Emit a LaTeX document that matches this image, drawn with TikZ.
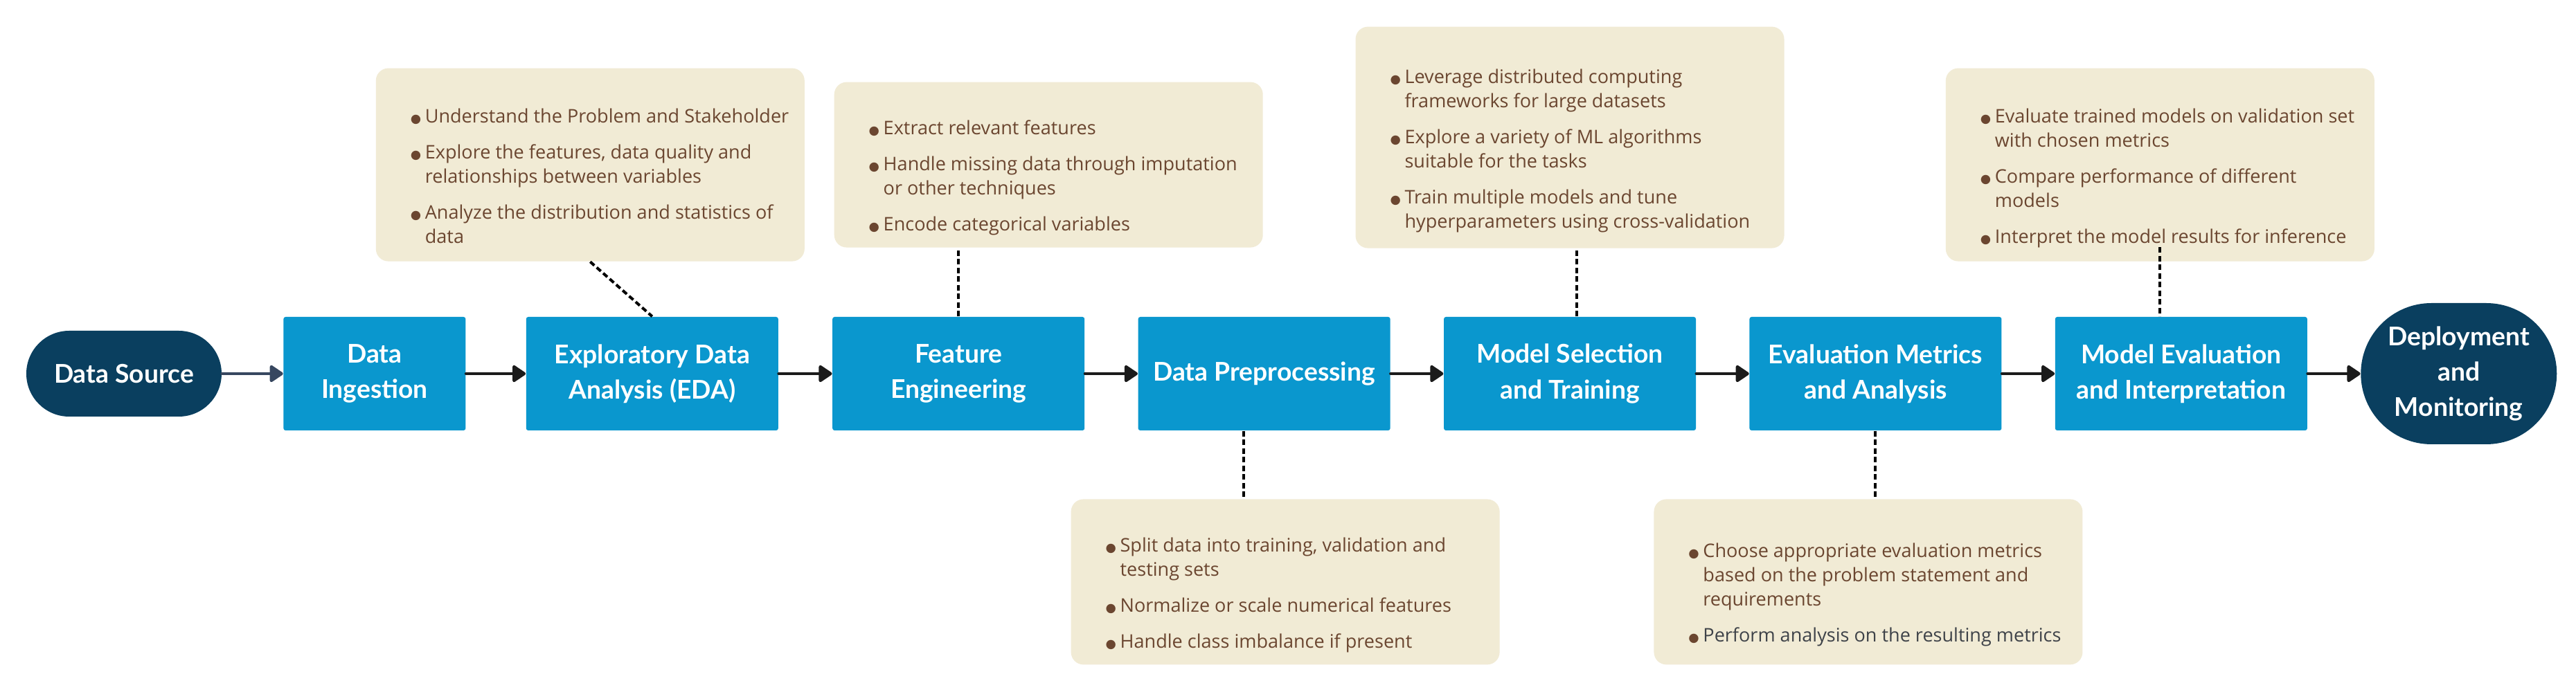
\documentclass[tikz,border=0pt]{standalone}
\usepackage{fontspec}
\setmainfont{Open Sans}
\newfontfamily\stagefont{Lato}
\newfontfamily\dotfont{DejaVu Sans}
\usetikzlibrary{positioning,calc,arrows.meta}

\definecolor{stageblue}{HTML}{0A97CE}
\definecolor{termnavy}{HTML}{0A3F5F}
\definecolor{notebg}{HTML}{F1EBD5}
\definecolor{notetext}{HTML}{6B4630}
\definecolor{notegray}{HTML}{3F4349}
\definecolor{srcarrow}{HTML}{374760}
\definecolor{flowblack}{HTML}{1B1B1B}

% bullet list inside a note
\newcommand{\nbul}{\makebox[0.21cm][l]{{\dotfont\fontsize{5}{5}\selectfont ●}}}
\newcommand{\nind}{\hspace*{0.21cm}}
\newcommand{\notelist}[1]{\makebox[5.19cm][l]{\raisebox{-0.19cm}[\height][\depth]{%
    \begin{tabular}{@{}l@{}}#1\end{tabular}}}}

\tikzset{
    stage/.style={
        fill=stageblue,
        rounded corners=0.03cm,
        text=white,
        align=center,
        minimum width=3.64cm,
        minimum height=1.64cm,
        font=\stagefont\bfseries\fontsize{10.6}{14.6}\selectfont
    },
    terminal/.style={
        fill=termnavy,
        text=white,
        align=center,
        font=\stagefont\bfseries\fontsize{10.6}{14.6}\selectfont
    },
    note/.style={
        fill=notebg,
        rounded corners=0.18cm,
        inner sep=0pt,
        minimum width=6.19cm,
        text=notetext,
        font=\fontsize{7.7}{9.96}\selectfont
    },
    flow/.style={->, line width=0.045cm, draw=flowblack, line cap=round},
    link/.style={line width=0.04cm, dash pattern=on 0.08cm off 0.045cm, draw=black}
}

\begin{document}
\begin{tikzpicture}[auto, node distance=0.76cm,
    >={Triangle[length=0.21cm,width=0.27cm,round]}]
    \useasboundingbox[fill=white] (0,0) rectangle (37.2,-10);
    % Pipeline
    \node [terminal,
        minimum width=2.82cm,
        minimum height=1.24cm,
        rounded corners=0.62cm
    ] (src) at (1.79,-5.40) {Data Source};
    \node [stage,
        minimum width=2.63cm,
        right=0.88cm of src
    ] (ing) {Data\\Ingestion};
    \node [stage, right=0.86cm of ing] (eda) {Exploratory Data\\Analysis (EDA)};
    \node [stage, right=0.77cm of eda] (fe) {Feature\\Engineering};
    \node [stage, right=of fe] (dp) {Data Preprocessing};
    \node [stage, right=of dp] (ms) {Model Selection\\and Training};
    \node [stage, right=of ms] (em) {Evaluation Metrics\\and Analysis};
    \node [stage, right=of em] (me) {Model Evaluation\\and Interpretation};
    \node [terminal,
        minimum width=2.83cm,
        minimum height=2.04cm,
        rounded corners=1.02cm,
        right=of me
    ] (dm) {Deployment\\and\\Monitoring};

    % Notes above
    \node [note,
        minimum height=2.79cm,
        above=0.79cm of eda, xshift=-0.895cm
    ] (edanote) {\notelist{%
        \nbul Understand the Problem and Stakeholder\\[0.17cm]
        \nbul Explore the features, data quality and\\
        \nind relationships between variables\\[0.17cm]
        \nbul Analyze the distribution and statistics of\\
        \nind data}};
    \node [note,
        minimum height=2.39cm,
        above=0.99cm of fe, xshift=1.30cm
    ] (fenote) {\notelist{%
        \nbul Extract relevant features\\[0.17cm]
        \nbul Handle missing data through imputation\\
        \nind or other techniques\\[0.17cm]
        \nbul Encode categorical variables}};
    \node [note,
        minimum height=3.20cm,
        above=0.98cm of ms
    ] (msnote) {\notelist{%
        \nbul Leverage distributed computing\\
        \nind frameworks for large datasets\\[0.17cm]
        \nbul Explore a variety of ML algorithms\\
        \nind suitable for the tasks\\[0.17cm]
        \nbul Train multiple models and tune\\
        \nind hyperparameters using cross-validation}};
    \node [note,
        minimum height=2.79cm,
        above=0.79cm of me, xshift=-0.305cm
    ] (menote) {\notelist{%
        \nbul Evaluate trained models on validation set\\
        \nind with chosen metrics\\[0.17cm]
        \nbul Compare performance of different\\
        \nind models\\[0.17cm]
        \nbul Interpret the model results for inference}};
    % Notes below
    \node [note,
        minimum height=2.39cm,
        below=0.98cm of dp, xshift=0.305cm
    ] (dpnote) {\notelist{%
        \nbul Split data into training, validation and\\
        \nind testing sets\\[0.17cm]
        \nbul Normalize or scale numerical features\\[0.17cm]
        \nbul Handle class imbalance if present}};
    \node [note,
        minimum height=2.39cm,
        below=0.98cm of em, xshift=-0.105cm
    ] (emnote) {\notelist{%
        \nbul Choose appropriate evaluation metrics\\
        \nind based on the problem statement and\\
        \nind requirements\\[0.17cm]
        \nbul\textcolor{notegray}{Perform analysis on the resulting metrics}}};

    % Arrows
    \draw[flow, draw=srcarrow] (src.east) -- (ing.west);
    \foreach \a/\b in {ing/eda, eda/fe, fe/dp, dp/ms, ms/em, em/me, me/dm}
        \draw[flow] (\a.east) -- (\b.west);

    % Dashed links to the notes
    \coordinate (mstap) at ($(ms.north)+(0.1,0)$);
    \coordinate (metap) at ($(menote.south)+(0,0.21)$);
    \coordinate (dptap) at ($(dp.south)+(-0.3,0)$);
    \draw[link] (edanote.south) -- (eda.north);
    \draw[link] (fe.north) -- (fe.north |- fenote.south);
    \draw[link] (mstap) -- (mstap |- msnote.south);
    \draw[link] (metap) -- (metap |- me.north);
    \draw[link] (dptap) -- (dptap |- dpnote.north);
    \draw[link] (em.south) -- (em.south |- emnote.north);

\end{tikzpicture}
\end{document}
